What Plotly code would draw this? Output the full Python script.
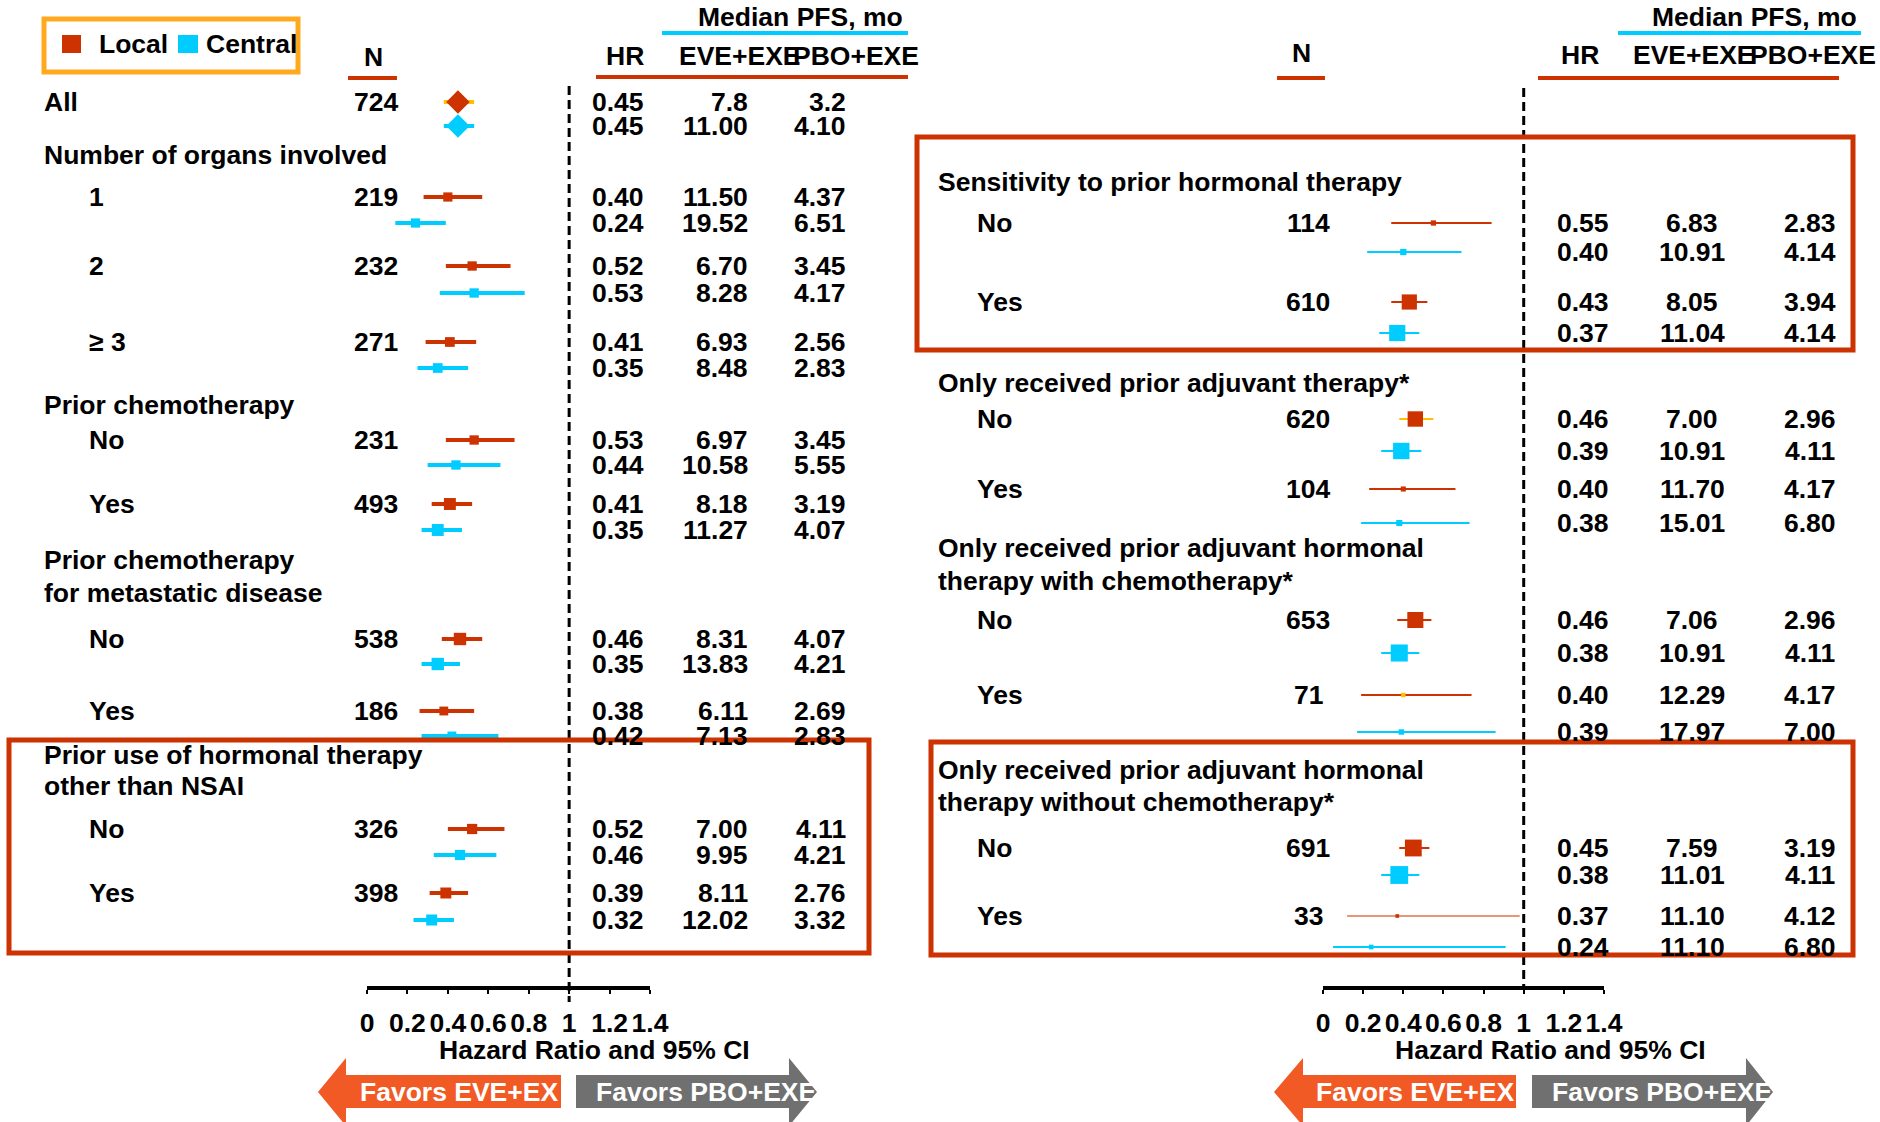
import plotly.graph_objects as go

# ---------------- data ----------------
# Left panel
L_LABELS = ["All", "1", "2", "≥ 3", "No", "Yes", "No", "Yes", "No", "Yes"]
L_N = [724, 219, 232, 271, 231, 493, 538, 186, 326, 398]
L_LOCAL_HR = [0.45, 0.40, 0.52, 0.41, 0.53, 0.41, 0.46, 0.38, 0.52, 0.39]
L_LOCAL_LO = [0.38, 0.28, 0.39, 0.29, 0.39, 0.32, 0.37, 0.26, 0.40, 0.31]
L_LOCAL_HI = [0.53, 0.57, 0.71, 0.54, 0.73, 0.52, 0.57, 0.53, 0.68, 0.50]
L_CENTRAL_HR = [0.45, 0.24, 0.53, 0.35, 0.44, 0.35, 0.35, 0.42, 0.46, 0.32]
L_CENTRAL_LO = [0.38, 0.14, 0.36, 0.25, 0.30, 0.27, 0.27, 0.27, 0.33, 0.23]
L_CENTRAL_HI = [0.53, 0.39, 0.78, 0.50, 0.66, 0.47, 0.46, 0.65, 0.64, 0.43]
L_LOCAL_EVE = ["7.8", "11.50", "6.70", "6.93", "6.97", "8.18", "8.31", "6.11", "7.00", "8.11"]
L_LOCAL_PBO = ["3.2", "4.37", "3.45", "2.56", "3.45", "3.19", "4.07", "2.69", "4.11", "2.76"]
L_CENTRAL_EVE = ["11.00", "19.52", "8.28", "8.48", "10.58", "11.27", "13.83", "7.13", "9.95", "12.02"]
L_CENTRAL_PBO = ["4.10", "6.51", "4.17", "2.83", "5.55", "4.07", "4.21", "2.83", "4.21", "3.32"]
L_GROUPS = ["Number of organs involved", "Prior chemotherapy", "Prior chemotherapy",
            "for metastatic disease", "Prior use of hormonal therapy", "other than NSAI"]

# Right panel
R_LABELS = ["No", "Yes", "No", "Yes", "No", "Yes", "No", "Yes"]
R_N = [114, 610, 620, 104, 653, 71, 691, 33]
R_LOCAL_HR = [0.55, 0.43, 0.46, 0.40, 0.46, 0.40, 0.45, 0.37]
R_LOCAL_LO = [0.34, 0.34, 0.38, 0.23, 0.37, 0.19, 0.38, 0.12]
R_LOCAL_HI = [0.84, 0.52, 0.55, 0.66, 0.54, 0.74, 0.53, 0.98]
R_CENTRAL_HR = [0.40, 0.37, 0.39, 0.38, 0.38, 0.39, 0.38, 0.24]
R_CENTRAL_LO = [0.22, 0.28, 0.29, 0.19, 0.29, 0.17, 0.29, 0.05]
R_CENTRAL_HI = [0.69, 0.48, 0.49, 0.73, 0.48, 0.86, 0.48, 0.91]
R_LOCAL_EVE = ["6.83", "8.05", "7.00", "11.70", "7.06", "12.29", "7.59", "11.10"]
R_LOCAL_PBO = ["2.83", "3.94", "2.96", "4.17", "2.96", "4.17", "3.19", "4.12"]
R_CENTRAL_EVE = ["10.91", "11.04", "10.91", "15.01", "10.91", "17.97", "11.01", "11.10"]
R_CENTRAL_PBO = ["4.14", "4.14", "4.11", "6.80", "4.11", "7.00", "4.11", "6.80"]
R_GROUPS = ["Sensitivity to prior hormonal therapy", "Only received prior adjuvant therapy*",
            "Only received prior adjuvant hormonal", "therapy with chemotherapy*",
            "Only received prior adjuvant hormonal", "therapy without chemotherapy*"]

TICK_VALS = [0, 0.2, 0.4, 0.6, 0.8, 1.0, 1.2, 1.4]
TICK_TEXT = ["0", "0.2", "0.4", "0.6", "0.8", "1", "1.2", "1.4"]

# ---------------- layout (pixel positions, styles) ----------------
W, H = 1880, 1122
FONT = "Liberation Sans, Arial, sans-serif"
FS = 26.5
RED = "#CC3300"
CYAN = "#00CCFF"
YEL = "#FFC000"
ORANGE = "#F15A24"
GRAY = "#707070"
LEG_ORANGE = "#FFAA1E"

L_Y_LOCAL = [102, 197, 266, 342, 440, 504, 639, 711, 829, 893]
L_Y_CENTRAL = [126, 223, 293, 368, 465, 530, 664, 736, 855, 920]
L_GROUP_Y = [155, 405, 560, 593, 755, 786]
R_Y_LOCAL = [223, 302, 419, 489, 620, 695, 848, 916]
R_Y_CENTRAL = [252, 333, 451, 523, 653, 732, 875, 947]
R_GROUP_Y = [182, 383, 548, 581, 770, 802]

AXIS_Y = 988


def px(x):
    return x / W


def py(y):
    return 1 - y / H


fig = go.Figure()
ann = []
shapes = []


def txt(x, y, s, anchor="left", color="black", size=FS):
    ann.append(dict(x=px(x), y=py(y), xref="paper", yref="paper", text=s, showarrow=False,
                    xanchor=anchor, yanchor="middle",
                    font=dict(family=FONT, size=size, color=color, weight="bold")))


def hline(x0, x1, y, color, width):
    shapes.append(dict(type="line", xref="paper", yref="paper", x0=px(x0), x1=px(x1),
                       y0=py(y), y1=py(y), line=dict(color=color, width=width)))


def rect(x0, y0, x1, y1, color, width, fill="rgba(0,0,0,0)"):
    shapes.append(dict(type="rect", xref="paper", yref="paper", x0=px(x0), x1=px(x1),
                       y0=py(y0), y1=py(y1), line=dict(color=color, width=width), fillcolor=fill))


def poly(pts, color):
    path = "M " + " L ".join(f"{px(a):.5f},{py(b):.5f}" for a, b in pts) + " Z"
    shapes.append(dict(type="path", xref="paper", yref="paper", path=path,
                       fillcolor=color, line=dict(width=0)))


def forest(xa, hr, lo, hi, ys, line_colors, marker_colors, sizes, symbols, lw):
    for i in range(len(hr)):
        fig.add_trace(go.Scatter(x=[lo[i], hi[i]], y=[ys[i], ys[i]], xaxis=xa, yaxis="y",
                                 mode="lines", line=dict(color=line_colors[i], width=lw),
                                 hoverinfo="skip"))
    fig.add_trace(go.Scatter(x=hr, y=ys, xaxis=xa, yaxis="y", mode="markers",
                             marker=dict(symbol=symbols, size=sizes, color=marker_colors,
                                         opacity=1, line=dict(width=0)), hoverinfo="skip"))


# ---------------- left panel ----------------
nL = len(L_LABELS)
l_sym = ["diamond"] + ["square"] * (nL - 1)
l_size_local = [18] + [7 + n / 100 for n in L_N[1:]]
l_size_central = [18] + [7 + n / 100 for n in L_N[1:]]
forest("x", L_LOCAL_HR, L_LOCAL_LO, L_LOCAL_HI, L_Y_LOCAL,
       [YEL] + [RED] * (nL - 1), [RED] * nL, l_size_local, l_sym, 4)
forest("x", L_CENTRAL_HR, L_CENTRAL_LO, L_CENTRAL_HI, L_Y_CENTRAL,
       [CYAN] * nL, [CYAN] * nL, l_size_central, l_sym, 4)

for i, lab in enumerate(L_LABELS):
    txt(42 if i == 0 else 87, L_Y_LOCAL[i], lab)
    txt(376, L_Y_LOCAL[i], str(L_N[i]), "center")
    txt(646, L_Y_LOCAL[i], f"{L_LOCAL_HR[i]:.2f}", "right")
    txt(750, L_Y_LOCAL[i], L_LOCAL_EVE[i], "right")
    txt(848, L_Y_LOCAL[i], L_LOCAL_PBO[i], "right")
    txt(646, L_Y_CENTRAL[i], f"{L_CENTRAL_HR[i]:.2f}", "right")
    txt(750, L_Y_CENTRAL[i], L_CENTRAL_EVE[i], "right")
    txt(848, L_Y_CENTRAL[i], L_CENTRAL_PBO[i], "right")
for g, y in zip(L_GROUPS, L_GROUP_Y):
    txt(42, y, g)

# left headers
txt(373, 57, "N", "center")
hline(348, 397, 78, RED, 4)
txt(625, 56, "HR", "center")
txt(740, 56, "EVE+EXE", "center")
txt(856, 56, "PBO+EXE", "center")
txt(800, 17, "Median PFS, mo", "center")
hline(662, 908, 33, CYAN, 4)
hline(596, 908, 77, RED, 4)

# ---------------- right panel ----------------
nR = len(R_LABELS)
r_local_line = [RED] * nR
r_local_line[2] = YEL
r_local_line[7] = "#E8967A"
r_local_mark = [RED] * nR
r_local_mark[5] = YEL
forest("x2", R_LOCAL_HR, R_LOCAL_LO, R_LOCAL_HI, R_Y_LOCAL,
       r_local_line, r_local_mark, [3 + n / 50 for n in R_N], ["square"] * nR, 2)
forest("x2", R_CENTRAL_HR, R_CENTRAL_LO, R_CENTRAL_HI, R_Y_CENTRAL,
       [CYAN] * nR, [CYAN] * nR, [4 + n / 50 for n in R_N], ["square"] * nR, 2)

for i, lab in enumerate(R_LABELS):
    txt(975, R_Y_LOCAL[i], lab)
    txt(1308, R_Y_LOCAL[i], str(R_N[i]), "center")
    txt(1583, R_Y_LOCAL[i], f"{R_LOCAL_HR[i]:.2f}", "center")
    txt(1692, R_Y_LOCAL[i], R_LOCAL_EVE[i], "center")
    txt(1810, R_Y_LOCAL[i], R_LOCAL_PBO[i], "center")
    txt(1583, R_Y_CENTRAL[i], f"{R_CENTRAL_HR[i]:.2f}", "center")
    txt(1692, R_Y_CENTRAL[i], R_CENTRAL_EVE[i], "center")
    txt(1810, R_Y_CENTRAL[i], R_CENTRAL_PBO[i], "center")
for g, y in zip(R_GROUPS, R_GROUP_Y):
    txt(936, y, g)

txt(1301, 53, "N", "center")
hline(1277, 1325, 78, RED, 4)
txt(1580, 55, "HR", "center")
txt(1694, 55, "EVE+EXE", "center")
txt(1813, 55, "PBO+EXE", "center")
txt(1754, 17, "Median PFS, mo", "center")
hline(1618, 1861, 33, CYAN, 4)
hline(1538, 1839, 78, RED, 4)

# reference lines at HR = 1
shapes.append(dict(type="line", xref="x", yref="y", x0=1, x1=1, y0=86, y1=1002,
                   line=dict(color="black", width=3, dash="9px,5px")))
shapes.append(dict(type="line", xref="x2", yref="y", x0=1, x1=1, y0=88, y1=990,
                   line=dict(color="black", width=3, dash="9px,5px")))

# axis titles
txt(594, 1050, "Hazard Ratio and 95% CI", "center")
txt(1550, 1050, "Hazard Ratio and 95% CI", "center")


# arrows
def arrows(o_tip, o_base, o_end, g_start, g_base, g_tip, o_text_x, g_text_x):
    poly([(o_tip, 1092), (o_base, 1058), (o_base, 1075), (o_end, 1075), (o_end, 1108),
          (o_base, 1108), (o_base, 1126)], ORANGE)
    poly([(g_start, 1075), (g_base, 1075), (g_base, 1058), (g_tip, 1092), (g_base, 1126),
          (g_base, 1108), (g_start, 1108)], GRAY)
    txt(o_text_x, 1092, "Favors EVE+EX", "center", "white")
    txt(g_text_x, 1092, "Favors PBO+EXE", "center", "white")


arrows(318, 346, 561, 576, 789, 817, 459, 706)
arrows(1274, 1303, 1516, 1532, 1746, 1773, 1415, 1662)

# highlight boxes
rect(9, 740, 869, 953, RED, 5)
rect(917, 137, 1853, 350, RED, 5)
rect(931, 742, 1853, 955, RED, 5)

# legend box
rect(44, 19, 298, 72, LEG_ORANGE, 5)
rect(62, 35, 81, 53, RED, 0, RED)
txt(97, 44, "Local")
rect(178, 35, 198, 53, CYAN, 0, CYAN)
txt(204, 44, "Central")

axis_common = dict(range=[0, 1.4], anchor="free", position=py(AXIS_Y), showline=True,
                   linewidth=4, linecolor="black", ticks="outside", ticklen=4, tickwidth=2,
                   tickcolor="black", tickvals=TICK_VALS, ticktext=TICK_TEXT, tickangle=0,
                   tickfont=dict(family=FONT, size=FS, color="black", weight="bold"),
                   showgrid=False, zeroline=False, fixedrange=True, ticklabelstandoff=6,
                   automargin=False)

fig.update_layout(
    width=W, height=H, autosize=False, margin=dict(l=0, r=0, t=0, b=0, pad=0),
    paper_bgcolor="white", plot_bgcolor="rgba(0,0,0,0)", showlegend=False,
    xaxis=dict(domain=[367 / W, 650 / W], **axis_common),
    xaxis2=dict(domain=[1323 / W, 1604 / W], **axis_common),
    yaxis=dict(domain=[0, 1], range=[H, 0], visible=False, fixedrange=True, automargin=False),
    annotations=ann, shapes=shapes,
)

fig.write_html(
    "out.html",
    config={"displayModeBar": False, "responsive": False},
    post_script="document.body.style.margin='0px';document.body.style.overflow='hidden';",
)
